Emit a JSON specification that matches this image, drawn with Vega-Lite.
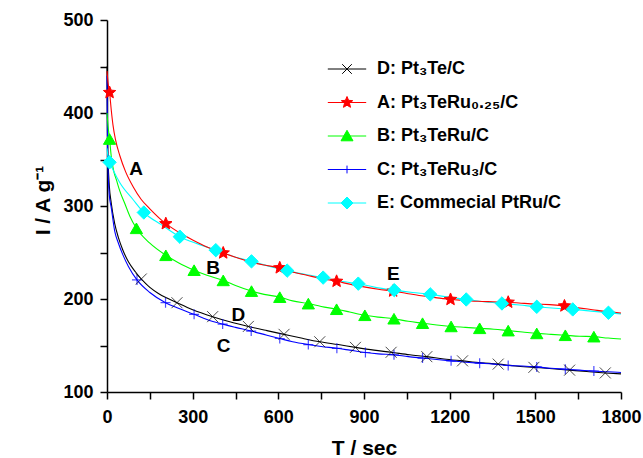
{
  "$schema": "https://vega.github.io/schema/vega-lite/v6.json",
  "autosize": {"type": "none"},
  "padding": {"left": 107, "top": 20, "right": 22, "bottom": 66},
  "width": 514,
  "height": 372,
  "config": {
    "view": {"stroke": null},
    "font": "Liberation Sans",
    "axis": {
      "grid": false,
      "domainColor": "#000000",
      "domainWidth": 1.5,
      "tickColor": "#000000",
      "tickWidth": 1.5,
      "labelColor": "#000000",
      "labelFont": "Liberation Sans",
      "labelFontSize": 18,
      "labelFontWeight": "bold",
      "titleColor": "#000000",
      "titleFont": "Liberation Sans",
      "titleFontSize": 21,
      "titleFontWeight": "bold",
      "labelFlush": false,
      "labelOverlap": false
    },
    "legend": {
      "padding": 0,
      "symbolSize": 144, "symbolStrokeWidth": 1, "labelOffset": 21, "rowPadding": 15.5, "labelLimit": 0,
      "labelFont": "Liberation Sans", "labelFontSize": 18, "labelFontWeight": "bold", "labelColor": "#000000"
    }
  },
  "datasets": {
    "curves": [
      {"s":"D","t":0,"I":450},{"s":"D","t":2,"I":372},{"s":"D","t":4,"I":347},{"s":"D","t":8,"I":322},{"s":"D","t":15,"I":303},{"s":"D","t":27,"I":281},{"s":"D","t":40,"I":266},{"s":"D","t":55,"I":253},{"s":"D","t":75,"I":240},{"s":"D","t":100,"I":229},{"s":"D","t":120,"I":221.5},{"s":"D","t":150,"I":212.5},{"s":"D","t":180,"I":206},{"s":"D","t":210,"I":201},{"s":"D","t":245,"I":196},{"s":"D","t":300,"I":188.5},{"s":"D","t":370,"I":181},{"s":"D","t":430,"I":175.5},{"s":"D","t":495,"I":170.5},{"s":"D","t":560,"I":166},{"s":"D","t":620,"I":162},{"s":"D","t":680,"I":158},{"s":"D","t":745,"I":154},{"s":"D","t":810,"I":151},{"s":"D","t":870,"I":148},{"s":"D","t":935,"I":145},{"s":"D","t":995,"I":142.7},{"s":"D","t":1060,"I":140},{"s":"D","t":1120,"I":138},{"s":"D","t":1180,"I":135.5},{"s":"D","t":1245,"I":133.5},{"s":"D","t":1310,"I":131.5},{"s":"D","t":1370,"I":130},{"s":"D","t":1430,"I":128},{"s":"D","t":1495,"I":126.5},{"s":"D","t":1560,"I":125},{"s":"D","t":1620,"I":123.5},{"s":"D","t":1680,"I":122},{"s":"D","t":1745,"I":120.5},{"s":"D","t":1800,"I":119.5},
      {"s":"C","t":0,"I":440},{"s":"C","t":2,"I":362},{"s":"C","t":4,"I":336},{"s":"C","t":8,"I":312},{"s":"C","t":15,"I":298},{"s":"C","t":27,"I":273},{"s":"C","t":40,"I":260},{"s":"C","t":55,"I":248},{"s":"C","t":75,"I":235},{"s":"C","t":105,"I":220.5},{"s":"C","t":150,"I":207},{"s":"C","t":205,"I":196},{"s":"C","t":250,"I":190},{"s":"C","t":305,"I":183.5},{"s":"C","t":350,"I":178},{"s":"C","t":405,"I":173},{"s":"C","t":450,"I":169.5},{"s":"C","t":505,"I":165.5},{"s":"C","t":560,"I":161},{"s":"C","t":605,"I":157.5},{"s":"C","t":650,"I":154},{"s":"C","t":705,"I":151},{"s":"C","t":750,"I":149},{"s":"C","t":805,"I":147},{"s":"C","t":850,"I":145},{"s":"C","t":905,"I":142.5},{"s":"C","t":950,"I":141},{"s":"C","t":1005,"I":140},{"s":"C","t":1055,"I":138},{"s":"C","t":1105,"I":136.5},{"s":"C","t":1155,"I":135},{"s":"C","t":1205,"I":133.5},{"s":"C","t":1255,"I":132},{"s":"C","t":1305,"I":131},{"s":"C","t":1355,"I":130},{"s":"C","t":1405,"I":128.5},{"s":"C","t":1455,"I":128},{"s":"C","t":1505,"I":127},{"s":"C","t":1555,"I":125.5},{"s":"C","t":1605,"I":124.5},{"s":"C","t":1655,"I":123.5},{"s":"C","t":1705,"I":122.5},{"s":"C","t":1755,"I":121.8},{"s":"C","t":1800,"I":121},
      {"s":"B","t":0,"I":400},{"s":"B","t":4,"I":385},{"s":"B","t":9,"I":372},{"s":"B","t":15,"I":353},{"s":"B","t":24,"I":337},{"s":"B","t":33,"I":328},{"s":"B","t":45,"I":316},{"s":"B","t":62,"I":303},{"s":"B","t":80,"I":289},{"s":"B","t":103,"I":276},{"s":"B","t":150,"I":260},{"s":"B","t":206,"I":247},{"s":"B","t":250,"I":239},{"s":"B","t":305,"I":231},{"s":"B","t":350,"I":225.5},{"s":"B","t":407,"I":220},{"s":"B","t":450,"I":214.5},{"s":"B","t":506,"I":208.5},{"s":"B","t":550,"I":205},{"s":"B","t":605,"I":202},{"s":"B","t":650,"I":198},{"s":"B","t":705,"I":195},{"s":"B","t":750,"I":192},{"s":"B","t":804,"I":189},{"s":"B","t":850,"I":186},{"s":"B","t":903,"I":182.5},{"s":"B","t":950,"I":180.5},{"s":"B","t":1005,"I":178.8},{"s":"B","t":1055,"I":176},{"s":"B","t":1105,"I":174},{"s":"B","t":1155,"I":172},{"s":"B","t":1205,"I":170.5},{"s":"B","t":1255,"I":169.5},{"s":"B","t":1305,"I":168.5},{"s":"B","t":1355,"I":167.5},{"s":"B","t":1405,"I":166},{"s":"B","t":1455,"I":164.5},{"s":"B","t":1505,"I":163},{"s":"B","t":1555,"I":162},{"s":"B","t":1605,"I":161},{"s":"B","t":1655,"I":160},{"s":"B","t":1705,"I":159.5},{"s":"B","t":1755,"I":158},{"s":"B","t":1800,"I":157},
      {"s":"E","t":0,"I":362},{"s":"E","t":4,"I":352},{"s":"E","t":9,"I":347},{"s":"E","t":21,"I":339},{"s":"E","t":45,"I":325},{"s":"E","t":91,"I":307},{"s":"E","t":129,"I":293},{"s":"E","t":190,"I":280},{"s":"E","t":255,"I":267},{"s":"E","t":320,"I":259},{"s":"E","t":381,"I":252.5},{"s":"E","t":440,"I":246},{"s":"E","t":506,"I":240.5},{"s":"E","t":570,"I":235},{"s":"E","t":631,"I":230.5},{"s":"E","t":700,"I":226},{"s":"E","t":757,"I":223},{"s":"E","t":820,"I":219},{"s":"E","t":880,"I":216.5},{"s":"E","t":940,"I":212.5},{"s":"E","t":1006,"I":209.5},{"s":"E","t":1070,"I":207},{"s":"E","t":1132,"I":205},{"s":"E","t":1195,"I":202},{"s":"E","t":1258,"I":199.5},{"s":"E","t":1320,"I":197},{"s":"E","t":1383,"I":195.2},{"s":"E","t":1445,"I":193.5},{"s":"E","t":1505,"I":191.6},{"s":"E","t":1570,"I":190},{"s":"E","t":1631,"I":188.8},{"s":"E","t":1695,"I":187},{"s":"E","t":1756,"I":185.2},{"s":"E","t":1800,"I":184},
      {"s":"A","t":0,"I":445},{"s":"A","t":4,"I":432},{"s":"A","t":9,"I":422},{"s":"A","t":15,"I":403},{"s":"A","t":21,"I":387},{"s":"A","t":30,"I":371},{"s":"A","t":45,"I":354},{"s":"A","t":65,"I":337},{"s":"A","t":91,"I":321},{"s":"A","t":120,"I":307},{"s":"A","t":150,"I":297},{"s":"A","t":206,"I":281},{"s":"A","t":250,"I":272},{"s":"A","t":300,"I":263.5},{"s":"A","t":350,"I":256},{"s":"A","t":407,"I":249.5},{"s":"A","t":450,"I":245},{"s":"A","t":500,"I":240},{"s":"A","t":550,"I":236.5},{"s":"A","t":605,"I":233.5},{"s":"A","t":650,"I":229},{"s":"A","t":700,"I":225.5},{"s":"A","t":750,"I":222},{"s":"A","t":804,"I":219},{"s":"A","t":850,"I":216},{"s":"A","t":900,"I":213},{"s":"A","t":950,"I":210.5},{"s":"A","t":1002,"I":208.5},{"s":"A","t":1050,"I":206},{"s":"A","t":1100,"I":203.5},{"s":"A","t":1150,"I":201.5},{"s":"A","t":1203,"I":199.5},{"s":"A","t":1250,"I":198.5},{"s":"A","t":1300,"I":197.5},{"s":"A","t":1350,"I":197},{"s":"A","t":1405,"I":196.5},{"s":"A","t":1450,"I":195.5},{"s":"A","t":1500,"I":194.5},{"s":"A","t":1550,"I":194},{"s":"A","t":1602,"I":192.5},{"s":"A","t":1650,"I":190.5},{"s":"A","t":1700,"I":188.5},{"s":"A","t":1750,"I":186.5},{"s":"A","t":1800,"I":185}
    ],
    "markers": [
      {"s":"C","t":105,"I":220.5},{"s":"C","t":205,"I":196},{"s":"C","t":305,"I":183.5},{"s":"C","t":405,"I":173},{"s":"C","t":505,"I":165.5},{"s":"C","t":605,"I":157.5},{"s":"C","t":705,"I":151},{"s":"C","t":805,"I":147},{"s":"C","t":905,"I":142.5},{"s":"C","t":1005,"I":140},{"s":"C","t":1105,"I":136.5},{"s":"C","t":1205,"I":133.5},{"s":"C","t":1305,"I":131},{"s":"C","t":1405,"I":128.5},{"s":"C","t":1505,"I":127},{"s":"C","t":1605,"I":124.5},{"s":"C","t":1705,"I":122.5},
      {"s":"D","t":120,"I":221.5},{"s":"D","t":245,"I":196},{"s":"D","t":370,"I":181},{"s":"D","t":495,"I":170.5},{"s":"D","t":620,"I":162},{"s":"D","t":745,"I":154},{"s":"D","t":870,"I":148},{"s":"D","t":995,"I":142.7},{"s":"D","t":1120,"I":138},{"s":"D","t":1245,"I":133.5},{"s":"D","t":1370,"I":130},{"s":"D","t":1495,"I":126.5},{"s":"D","t":1620,"I":123.5},{"s":"D","t":1745,"I":120.5},
      {"s":"B","t":9,"I":372},{"s":"B","t":103,"I":276},{"s":"B","t":206,"I":247},{"s":"B","t":305,"I":231},{"s":"B","t":407,"I":220},{"s":"B","t":506,"I":208.5},{"s":"B","t":605,"I":202},{"s":"B","t":705,"I":195},{"s":"B","t":804,"I":189},{"s":"B","t":903,"I":182.5},{"s":"B","t":1005,"I":178.8},{"s":"B","t":1105,"I":174},{"s":"B","t":1205,"I":170.5},{"s":"B","t":1305,"I":168.5},{"s":"B","t":1405,"I":166},{"s":"B","t":1505,"I":163},{"s":"B","t":1605,"I":161},{"s":"B","t":1705,"I":159.5},
      {"s":"A","t":9,"I":422},{"s":"A","t":206,"I":281},{"s":"A","t":407,"I":249.5},{"s":"A","t":605,"I":233.5},{"s":"A","t":804,"I":219},{"s":"A","t":1002,"I":208.5},{"s":"A","t":1203,"I":199.5},{"s":"A","t":1405,"I":196.5},{"s":"A","t":1602,"I":192.5},
      {"s":"E","t":9,"I":347},{"s":"E","t":129,"I":293},{"s":"E","t":255,"I":267},{"s":"E","t":381,"I":252.5},{"s":"E","t":506,"I":240.5},{"s":"E","t":631,"I":230.5},{"s":"E","t":757,"I":223},{"s":"E","t":880,"I":216.5},{"s":"E","t":1006,"I":209.5},{"s":"E","t":1132,"I":205},{"s":"E","t":1258,"I":199.5},{"s":"E","t":1383,"I":195.2},{"s":"E","t":1505,"I":191.6},{"s":"E","t":1631,"I":188.8},{"s":"E","t":1756,"I":185.2}
    ],
    "notes": [
      {"t":102,"I":340,"note":"A"},
      {"t":372,"I":233.5,"note":"B"},
      {"t":460,"I":183,"note":"D"},
      {"t":408,"I":149,"note":"C"},
      {"t":1003,"I":227,"note":"E"}
    ]
  },
  "encoding": {
    "x": {
      "field": "t", "type": "quantitative",
      "scale": {"domain": [0, 1800], "nice": false, "zero": false},
      "axis": {
        "title": "T / sec",
        "format": "d",
        "values": [0,150,300,450,600,750,900,1050,1200,1350,1500,1650,1800],
        "labelExpr": "datum.value % 300 === 0 ? datum.label : ''",
        "tickSize": 7,
        "labelPadding": 9,
        "titlePadding": 11,
        "encode": {"ticks": {"update": {"y2": {"signal": "datum.value % 300 === 0 ? 7 : 4"}}}}
      }
    },
    "y": {
      "field": "I", "type": "quantitative",
      "scale": {"domain": [100, 500], "nice": false, "zero": false},
      "axis": {
        "title": "I / A g⁻¹",
        "values": [100,150,200,250,300,350,400,450,500],
        "labelExpr": "datum.value % 100 === 0 ? datum.label : ''",
        "tickSize": 7,
        "labelPadding": 7,
        "titlePadding": 9,
        "titleY": 180,
        "encode": {"ticks": {"update": {"x2": {"signal": "datum.value % 100 === 0 ? -7 : -4"}}}}
      }
    }
  },
  "layer": [
    {
      "data": {"name": "curves"},
      "mark": {"type": "line", "strokeWidth": 1.1, "interpolate": "monotone"},
      "encoding": {
        "color": {
          "field": "s", "type": "nominal",
          "scale": {"domain": ["A","B","C","D","E"], "range": ["#ff0000","#00ff00","#0000ff","#000000","#00ffff"]},
          "legend": null
        }
      }
    },
    {
      "data": {"name": "markers"},
      "transform": [{"filter": "datum.s === 'C'"}],
      "mark": {"type": "point", "shape": "M-1,0H1M0,-1V1", "size": 100, "filled": false, "stroke": "#0000ff", "strokeWidth": 1.2}
    },
    {
      "data": {"name": "markers"},
      "transform": [{"filter": "datum.s === 'D'"}],
      "mark": {"type": "point", "shape": "M-1,-1L1,1M-1,1L1,-1", "size": 121, "filled": false, "stroke": "#000000", "strokeWidth": 1}
    },
    {
      "data": {"name": "markers"},
      "transform": [{"filter": "datum.s === 'B'"}],
      "mark": {"type": "point", "shape": "triangle-up", "size": 150, "filled": true, "fill": "#00ff00", "stroke": "#00ff00", "strokeWidth": 1, "opacity": 1}
    },
    {
      "data": {"name": "markers"},
      "transform": [{"filter": "datum.s === 'A'"}],
      "mark": {"type": "point", "shape": "M0,-1L0.265,-0.364L0.951,-0.309L0.428,0.139L0.588,0.809L0,0.45L-0.588,0.809L-0.428,0.139L-0.951,-0.309L-0.265,-0.364Z", "size": 169, "filled": true, "fill": "#ff0000", "stroke": "#ff0000", "strokeWidth": 1, "opacity": 1}
    },
    {
      "data": {"name": "markers"},
      "transform": [{"filter": "datum.s === 'E'"}],
      "mark": {"type": "point", "shape": "diamond", "size": 180, "filled": true, "fill": "#00ffff", "stroke": "#00ffff", "strokeWidth": 1, "opacity": 1}
    },
    {
      "data": {"name": "notes"},
      "mark": {"type": "text", "font": "Liberation Sans", "fontSize": 19, "fontWeight": "bold", "color": "#000000", "align": "center", "baseline": "middle"},
      "encoding": {"text": {"field": "note"}}
    },
    {
      "data": {"name": "markers"},
      "mark": {"type": "point", "opacity": 0, "filled": true},
      "encoding": {
        "fill": {
          "field": "s", "type": "nominal",
          "scale": {"domain": ["D","A","B","C","E"], "range": ["#000000","#ff0000","#00ff00","#0000ff","#00ffff"]},
          "legend": {
            "title": null, "orient": "none", "legendX": 231, "legendY": 40,
            "labelExpr": "datum.value === 'D' ? 'D: Pt₃Te/C' : datum.value === 'A' ? 'A: Pt₃TeRu₀.₂₅/C' : datum.value === 'B' ? 'B: Pt₃TeRu/C' : datum.value === 'C' ? 'C: Pt₃TeRu₃/C' : 'E: Commecial PtRu/C'",
            "encode": {"symbols": {"update": {"opacity": {"value": 1}}}}
          }
        },
        "stroke": {
          "field": "s", "type": "nominal",
          "scale": {"domain": ["D","A","B","C","E"], "range": ["#000000","#ff0000","#00ff00","#0000ff","#00ffff"]},
          "legend": {
            "title": null, "orient": "none", "legendX": 231, "legendY": 40,
            "labelExpr": "datum.value === 'D' ? 'D: Pt₃Te/C' : datum.value === 'A' ? 'A: Pt₃TeRu₀.₂₅/C' : datum.value === 'B' ? 'B: Pt₃TeRu/C' : datum.value === 'C' ? 'C: Pt₃TeRu₃/C' : 'E: Commecial PtRu/C'",
            "encode": {"symbols": {"update": {"opacity": {"value": 1}}}}
          }
        },
        "shape": {
          "field": "s", "type": "nominal",
          "scale": {"domain": ["D","A","B","C","E"], "range": [
            "M-3.2,0H3.2M-0.8,-0.8L0.8,0.8M-0.8,0.8L0.8,-0.8",
            "M-3.2,0H3.2M0,-1L0.265,-0.364L0.951,-0.309L0.428,0.139L0.588,0.809L0,0.45L-0.588,0.809L-0.428,0.139L-0.951,-0.309L-0.265,-0.364Z",
            "M-3.2,0H3.2M0,-0.95L1,0.8L-1,0.8Z",
            "M-3.2,0H3.2M0,-0.65V0.65",
            "M-3.2,0H3.2M0,-1L1,0L0,1L-1,0Z"
          ]},
          "legend": {
            "title": null, "orient": "none", "legendX": 231, "legendY": 40,
            "labelExpr": "datum.value === 'D' ? 'D: Pt₃Te/C' : datum.value === 'A' ? 'A: Pt₃TeRu₀.₂₅/C' : datum.value === 'B' ? 'B: Pt₃TeRu/C' : datum.value === 'C' ? 'C: Pt₃TeRu₃/C' : 'E: Commecial PtRu/C'",
            "encode": {"symbols": {"update": {"opacity": {"value": 1}}}}
          }
        }
      }
    }
  ]
}
